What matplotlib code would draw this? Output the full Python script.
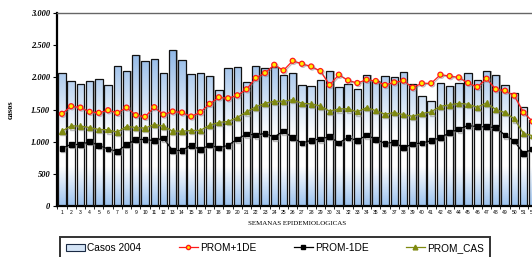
import numpy as np
import matplotlib
matplotlib.use('Agg')
import matplotlib.pyplot as plt
import matplotlib.patheffects as pe
from matplotlib.colors import LinearSegmentedColormap
from matplotlib.patches import Patch, Rectangle
from matplotlib.lines import Line2D
from matplotlib.ticker import FuncFormatter

# weekly data
semanas = list(range(1, 53))
casos_2004 = [2061, 1948, 1897, 1948, 1979, 1881, 2169, 2103, 2350, 2247,
              2278, 2072, 2422, 2268, 2051, 2067, 2015, 1809, 2144, 2154,
              1932, 2175, 2139, 2154, 2036, 2072, 1884, 1860, 1958, 2100,
              1845, 1901, 1824, 2030, 1943, 2020, 2005, 2077, 1897, 1705,
              1628, 1912, 1860, 1912, 2067, 1963, 2098, 2041, 1886, 1752,
              1535, 1330]
prom_mas_1de = [1433, 1551, 1530, 1464, 1448, 1489, 1448, 1530, 1412, 1386,
                1536, 1422, 1469, 1453, 1391, 1458, 1587, 1690, 1674, 1721,
                1814, 1990, 2067, 2195, 2108, 2257, 2211, 2169, 2098, 1881,
                2041, 1953, 1912, 1963, 1943, 1881, 1922, 1948, 1840, 1907,
                1907, 2041, 2020, 1999, 1912, 1850, 1979, 1814, 1793, 1716,
                1453, 1314]
prom_menos_1de = [897, 959, 954, 1000, 943, 886, 850, 954, 1031, 1036,
                  1015, 1056, 858, 866, 943, 876, 948, 902, 943, 1041,
                  1118, 1103, 1128, 1072, 1164, 1061, 979, 1020, 1041, 1077,
                  979, 1067, 1015, 1103, 1036, 974, 990, 905, 964, 979,
                  1015, 1061, 1139, 1195, 1252, 1232, 1232, 1216, 1103, 1010,
                  819, 886]
prom_cas = [1164, 1247, 1242, 1221, 1190, 1185, 1149, 1237, 1221, 1211,
            1268, 1242, 1164, 1164, 1175, 1175, 1257, 1299, 1314, 1376,
            1464, 1541, 1597, 1628, 1628, 1652, 1597, 1587, 1556, 1474,
            1510, 1510, 1464, 1530, 1484, 1427, 1453, 1420, 1396, 1438,
            1464, 1551, 1572, 1597, 1582, 1536, 1603, 1500, 1453, 1356,
            1128, 1093]

W, H = 532, 257
fig = plt.figure(figsize=(W / 100, H / 100), dpi=100)
ax = fig.add_axes([57.3 / W, 1 - 206 / H, 480 / W, 193 / H])

bar_w = 0.8
bar_cmap = LinearSegmentedColormap.from_list(
    'barras', [(0.0, '#9cc2ee'), (0.25, '#ffffff'), (0.45, '#ffffff'),
               (1.0, '#8db6e6')])

x = np.array(semanas, dtype=float)
# bar shadows
ax.bar(x + 0.14, casos_2004, width=bar_w, color='#8a8a8a', alpha=0.7,
       zorder=1, linewidth=0)
for xi, h in zip(x, casos_2004):
    x0 = xi - bar_w / 2
    grad = np.linspace(0, 1, 256).reshape(-1, 1) * (h / 2450)
    im = ax.imshow(grad, cmap=bar_cmap, vmin=0, vmax=1, aspect='auto',
                   origin='lower', extent=(x0, x0 + bar_w, 0, h), zorder=2)
    rect = Rectangle((x0, 0), bar_w, h, facecolor='none', edgecolor='#111111',
                     linewidth=0.9, zorder=3)
    ax.add_patch(rect)
    im.set_clip_path(rect)

shadow = [pe.SimpleLineShadow(offset=(0.8, -0.8), shadow_color='gray', alpha=0.5),
          pe.Normal()]
ax.plot(x, prom_mas_1de, color='#ff1a1a', lw=0.9, marker='o', ms=3.6,
        mfc='#ffee00', mec='#ff1a1a', mew=0.9, zorder=5, path_effects=shadow)
ax.plot(x, prom_menos_1de, color='black', lw=0.9, marker='s', ms=3.4,
        mfc='black', mec='black', zorder=5, path_effects=shadow)
ax.plot(x, prom_cas, color='#7f8a10', lw=0.9, marker='^', ms=3.8,
        mfc='#7f8a10', mec='#7f8a10', zorder=5, path_effects=shadow)

ax.set_xlim(0.5, 52.5)
ax.set_ylim(0, 3000)
ax.set_yticks(range(0, 3001, 500))
ax.yaxis.set_major_formatter(FuncFormatter(lambda v, p: f'{int(v):,}'.replace(',', '.')))
for lab in ax.get_yticklabels():
    lab.set_fontfamily('Liberation Serif')
    lab.set_fontweight('bold')
    lab.set_fontstyle('italic')
    lab.set_fontsize(6)
ax.tick_params(axis='y', length=3, width=0.8, pad=2)

ax.set_xticks(x)
ax.set_xticklabels([str(s) for s in semanas], fontsize=3.6,
                   fontfamily='Liberation Sans')
ax.set_xticks(np.arange(0.5, 53, 1), minor=True)
ax.tick_params(axis='x', which='major', length=0, pad=3)
ax.tick_params(axis='x', which='minor', length=2, width=0.6)

ax.set_ylabel('casos', fontsize=6, fontfamily='Liberation Serif',
              fontweight='bold', labelpad=12)
ax.set_xlabel('SEMANAS EPIDEMIOLOGICAS', fontsize=5,
              fontfamily='Liberation Serif', labelpad=4)

ax.spines['left'].set_linewidth(1.6)
ax.spines['bottom'].set_linewidth(1.6)
ax.spines['top'].set_color('#666666')
ax.spines['top'].set_linewidth(1.0)
ax.spines['right'].set_visible(False)

handles = [
    Patch(facecolor='#d4e4f6', edgecolor='#1a2a44', linewidth=0.8),
    Line2D([], [], color='#ff1a1a', lw=0.9, marker='o', ms=3, mfc='#ffee00', mec='#ff1a1a'),
    Line2D([], [], color='black', lw=0.9, marker='s', ms=3),
    Line2D([], [], color='#7f8a10', lw=0.9, marker='^', ms=3.4),
]
labels = ['Casos 2004', 'PROM+1DE', 'PROM-1DE', 'PROM_CAS']
leg = fig.legend(handles, labels, loc='lower left', ncol=4, mode='expand',
                 bbox_to_anchor=(60 / W, -2 / H, 430 / W, 27 / H),
                 prop={'family': 'Liberation Sans', 'size': 7.3},
                 frameon=True, fancybox=False, handlelength=1.9,
                 handletextpad=0.2, borderaxespad=0, borderpad=0.6)
leg.get_frame().set_edgecolor('black')
leg.get_frame().set_linewidth(1.4)

fig.savefig('out.png', dpi=100)
